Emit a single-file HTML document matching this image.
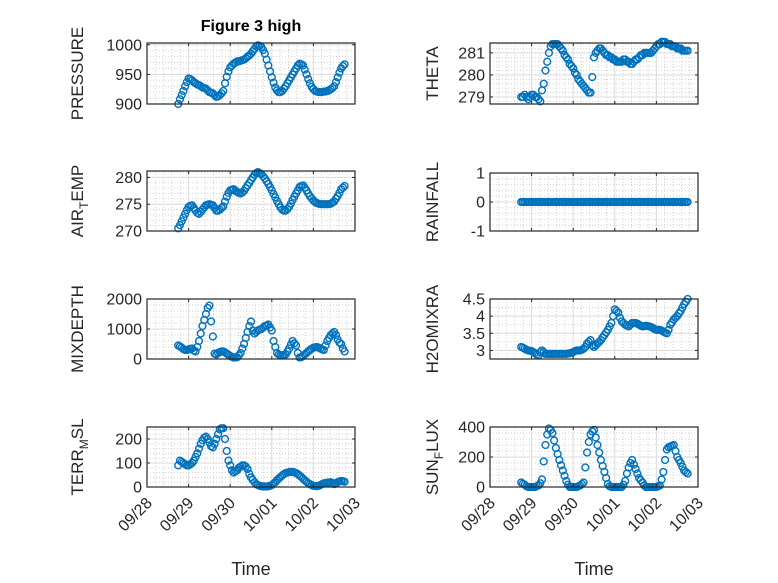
<!DOCTYPE html>
<html><head><meta charset="utf-8"><style>
body{margin:0;background:#fff;}
svg{display:block;font-family:"Liberation Sans",sans-serif;}
</style></head><body>
<svg id="fig" width="778" height="583" viewBox="0 0 778 583" xmlns="http://www.w3.org/2000/svg">
<rect width="778" height="583" fill="#fff"/>
<text x="251" y="31" text-anchor="middle" font-size="16" font-weight="bold" fill="#000">Figure 3 high</text>
<text x="251" y="575" text-anchor="middle" font-size="18" fill="#262626">Time</text>
<text x="594" y="575" text-anchor="middle" font-size="18" fill="#262626">Time</text>
</svg>
<script>
const startDay = 0.75;
const endDay = 4.75;
const xTickLabels = ["09/28","09/29","09/30","10/01","10/02","10/03"];
const pressure = [900,908,915,922,930,937,943,942,940,937,935,933,932,930,928,927,926,923,920,919,918,915,912,913,915,918,922,935,946,955,962,965,968,970,972,972,973,974,975,977,980,982,985,989,993,997,999,998,996,991,985,975,965,955,945,936,928,923,920,920,922,926,930,935,940,945,950,955,960,965,968,967,965,958,950,942,935,929,925,922,921,920,920,920,921,921,922,923,925,927,930,937,945,953,960,964,967];
const airTemp = [270.5,271.1,271.8,272.5,273.2,273.9,274.5,274.7,274.8,274.3,273.8,273.4,273.2,273.6,274.0,274.4,274.8,274.9,275.0,274.9,274.8,274.3,273.8,273.8,274.0,274.3,274.6,275.5,276.4,277.1,277.6,277.7,277.8,277.5,277.3,277.1,277.0,277.2,277.5,278.0,278.5,279.0,279.5,280.0,280.5,280.8,281.0,280.8,280.6,280.2,279.8,279.3,278.8,278.2,277.6,276.9,276.3,275.6,275.0,274.4,274.0,273.8,273.8,274.1,274.5,275.1,275.8,276.4,277.0,277.6,278.2,278.4,278.5,278.1,277.6,277.0,276.5,276.1,275.7,275.4,275.2,275.1,275.0,275.0,275.0,275.0,275.0,275.0,275.1,275.3,275.5,276.0,276.5,277.1,277.8,278.1,278.4];
const mixDepth = [450,420,380,330,300,300,320,340,350,280,250,400,600,850,1100,1300,1500,1700,1780,1250,750,180,150,200,230,250,250,220,180,140,100,70,50,50,60,120,200,350,500,700,900,1100,1250,950,850,900,950,980,1000,1050,1100,1120,1150,1050,950,600,400,200,150,130,120,130,150,250,350,480,600,520,450,200,50,60,100,150,200,250,300,340,380,390,400,380,350,320,300,450,600,700,800,850,900,800,650,550,500,350,250];
const terrMsl = [90,110,105,100,95,90,90,95,100,110,125,140,160,180,195,205,210,200,185,170,165,180,200,220,240,245,245,200,150,110,90,70,60,65,70,80,85,90,90,85,75,55,40,30,20,12,8,5,3,2,2,2,3,5,8,14,20,28,35,42,48,54,58,60,62,63,63,61,58,54,48,42,35,28,22,16,12,8,5,4,3,5,8,12,15,17,18,19,20,15,12,16,20,23,25,24,22];
const theta = [279.0,279.0,279.1,279.0,278.9,279.0,279.1,279.1,279.0,279.0,278.9,278.8,279.3,279.6,280.2,280.6,281.0,281.3,281.4,281.4,281.4,281.4,281.3,281.2,281.1,280.9,280.8,280.7,280.5,280.4,280.3,280.1,280.0,279.8,279.7,279.6,279.5,279.4,279.3,279.2,279.2,279.9,280.8,281.0,281.1,281.2,281.2,281.1,281.0,280.9,280.9,280.8,280.8,280.7,280.7,280.6,280.6,280.6,280.6,280.7,280.7,280.6,280.6,280.5,280.5,280.6,280.7,280.7,280.8,280.9,280.9,281.0,281.0,281.0,281.0,281.0,281.1,281.2,281.3,281.4,281.4,281.5,281.5,281.5,281.4,281.4,281.4,281.3,281.3,281.3,281.2,281.2,281.2,281.1,281.1,281.1,281.1];
const rainfall = [0,0,0,0,0,0,0,0,0,0,0,0,0,0,0,0,0,0,0,0,0,0,0,0,0,0,0,0,0,0,0,0,0,0,0,0,0,0,0,0,0,0,0,0,0,0,0,0,0,0,0,0,0,0,0,0,0,0,0,0,0,0,0,0,0,0,0,0,0,0,0,0,0,0,0,0,0,0,0,0,0,0,0,0,0,0,0,0,0,0,0,0,0,0,0,0,0];
const h2oMix = [3.1,3.08,3.05,3.02,3.0,2.99,2.98,2.95,2.92,2.88,2.85,2.95,3.0,2.95,2.9,2.9,2.9,2.9,2.9,2.9,2.9,2.9,2.9,2.9,2.9,2.9,2.9,2.91,2.92,2.93,2.95,2.98,3.0,3.0,3.0,3.02,3.05,3.1,3.2,3.25,3.3,3.15,3.1,3.15,3.2,3.25,3.3,3.38,3.45,3.52,3.6,3.7,3.8,4.0,4.2,4.15,4.1,3.95,3.85,3.8,3.75,3.72,3.7,3.75,3.8,3.8,3.8,3.78,3.75,3.72,3.7,3.71,3.72,3.71,3.7,3.68,3.65,3.62,3.6,3.6,3.6,3.58,3.55,3.52,3.5,3.6,3.75,3.82,3.9,3.95,4.0,4.08,4.15,4.25,4.35,4.42,4.5];
const sunFlux = [30,22,15,5,0,0,0,0,0,5,10,25,50,170,280,350,390,380,360,310,260,220,180,145,110,75,40,15,0,0,0,0,0,5,10,20,30,130,230,300,350,370,380,330,280,230,180,140,100,60,20,5,0,0,0,0,0,0,0,15,40,90,130,160,180,150,120,90,60,45,30,10,0,0,0,0,0,0,0,5,10,50,100,180,250,265,270,275,280,240,200,180,160,135,110,100,90];
const pressureTicks = [900,950,1000];
const airTempTicks = [270,275,280];
const mixDepthTicks = [0,1000,2000];
const terrTicks = [0,100,200];
const thetaTicks = [279,280,281];
const rainTicks = [-1,0,1];
const h2oTicks = [3,3.5,4,4.5];
const sunTicks = [0,200,400];

const NS = "http://www.w3.org/2000/svg";
const svg = document.getElementById('fig');
function mk(tag, attrs, parent){const e=document.createElementNS(NS,tag);for(const k in attrs)e.setAttribute(k,attrs[k]);(parent||svg).appendChild(e);return e;}

const panels = [
 {name:'pressure',x0:147,y0:43,w:208,h:61,ymin:900,ymax:1003,vals:pressure,ticks:pressureTicks,label:['PRESSURE'],lx:77,xl:false},
 {name:'air-temp',x0:147,y0:171,w:208,h:60,ymin:270,ymax:281.2,vals:airTemp,ticks:airTempTicks,label:['AIR','T','EMP'],lx:77,xl:false},
 {name:'mixdepth',x0:147,y0:299,w:208,h:60,ymin:0,ymax:2000,vals:mixDepth,ticks:mixDepthTicks,label:['MIXDEPTH'],lx:77,xl:false},
 {name:'terr-msl',x0:147,y0:427,w:208,h:60,ymin:0,ymax:250,vals:terrMsl,ticks:terrTicks,label:['TERR','M','SL'],lx:77,xl:true},
 {name:'theta',x0:490,y0:43,w:208,h:61,ymin:278.68,ymax:281.45,vals:theta,ticks:thetaTicks,label:['THETA'],lx:432,xl:false},
 {name:'rainfall',x0:490,y0:173,w:208,h:58,ymin:-1,ymax:1,vals:rainfall,ticks:rainTicks,label:['RAINFALL'],lx:432,xl:false},
 {name:'h2omixra',x0:490,y0:299,w:208,h:60,ymin:2.75,ymax:4.5,vals:h2oMix,ticks:h2oTicks,label:['H2OMIXRA'],lx:432,xl:false},
 {name:'sun-flux',x0:490,y0:427,w:208,h:60,ymin:0,ymax:400,vals:sunFlux,ticks:sunTicks,label:['SUN','F','LUX'],lx:432,xl:true}
];

panels.forEach(p=>{
  const g = mk('g',{});
  
  
  const xs = t => p.x0 + t/5*p.w;
  const ys = v => p.y0 + p.h - (v-p.ymin)/(p.ymax-p.ymin)*p.h;
  mk('rect',{x:p.x0,y:p.y0,width:p.w,height:p.h,fill:'#fff'},g);
  for(let d=0; d<5; d++) for(let m=1;m<5;m++){
    const x=xs(d+m/5);
    mk('line',{x1:x,x2:x,y1:p.y0,y2:p.y0+p.h,stroke:'#c8c8c8','stroke-width':0.8,'stroke-dasharray':'1 2'},g);
  }
  const step = p.ticks[1]-p.ticks[0];
  const minorStep = step/(p.ticks.length>3?2:5);
  for(let v=p.ticks[0]-step; v<=p.ymax+1e-9; v+=minorStep){
    if(v<p.ymin-1e-9) continue;
    const y=ys(v);
    mk('line',{x1:p.x0,x2:p.x0+p.w,y1:y,y2:y,stroke:'#c8c8c8','stroke-width':0.8,'stroke-dasharray':'1 2'},g);
  }
  for(let d=0; d<=5; d++){const x=xs(d);mk('line',{x1:x,x2:x,y1:p.y0,y2:p.y0+p.h,stroke:'#dcdcdc','stroke-width':1},g);}
  p.ticks.forEach(v=>{const y=ys(v);mk('line',{x1:p.x0,x2:p.x0+p.w,y1:y,y2:y,stroke:'#dcdcdc','stroke-width':1},g);});
  const n = p.vals.length;
  p.vals.forEach((v,i)=>{
    const t = startDay + (endDay-startDay)*i/(n-1);
    const c = mk('circle',{cx:xs(t).toFixed(2),cy:ys(v).toFixed(2),r:3.4,fill:'none',stroke:'#0072BD','stroke-width':1.4},g);
    
    
  });
  mk('rect',{x:p.x0,y:p.y0,width:p.w,height:p.h,fill:'none',stroke:'#262626','stroke-width':1.2},g);
  for(let d=0; d<=5; d++){
    const x=xs(d);
    mk('line',{x1:x,x2:x,y1:p.y0+p.h,y2:p.y0+p.h-3,stroke:'#262626'},g);
    mk('line',{x1:x,x2:x,y1:p.y0,y2:p.y0+3,stroke:'#262626'},g);
    if(p.xl){
      const t = mk('text',{x:x+6,y:p.y0+p.h+17,'text-anchor':'end','font-size':16,fill:'#262626',transform:`rotate(-45 ${x+6} ${p.y0+p.h+17})`},g);
      t.textContent = xTickLabels[d];
      
      
    }
  }
  p.ticks.forEach(v=>{
    const y=ys(v);
    mk('line',{x1:p.x0,x2:p.x0+3,y1:y,y2:y,stroke:'#262626'},g);
    mk('line',{x1:p.x0+p.w,x2:p.x0+p.w-3,y1:y,y2:y,stroke:'#262626'},g);
    const t = mk('text',{x:p.x0-5,y:y+5.5,'text-anchor':'end','font-size':16,fill:'#262626'},g);
    t.textContent = String(v);
    
    
  });
  const cy = p.y0 + p.h/2;
  const lab = mk('text',{x:p.lx,y:cy+6,'text-anchor':'middle','font-size':17,fill:'#262626',transform:`rotate(-90 ${p.lx} ${cy})`},g);
  
  
  if(p.label.length===1){ lab.textContent = p.label[0]; }
  else{
    const a=mk('tspan',{},lab); a.textContent=p.label[0];
    const b=mk('tspan',{dy:5,'font-size':12},lab); b.textContent=p.label[1];
    const c=mk('tspan',{dy:-5},lab); c.textContent=p.label[2];
  }
});
</script>
</body></html>
